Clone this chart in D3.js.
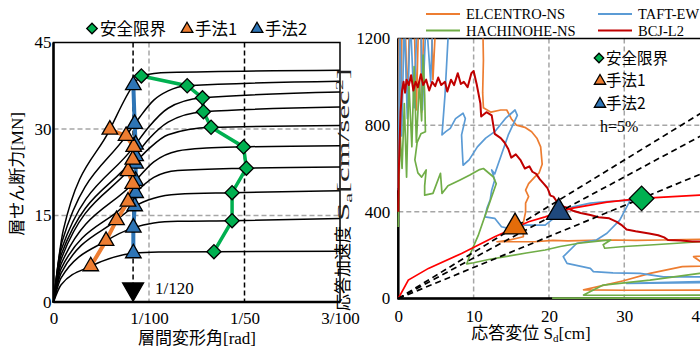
<!DOCTYPE html>
<html>
<head>
<meta charset="utf-8">
<script src="https://cdn.jsdelivr.net/npm/d3@7"></script>
<style>
  body { margin: 0; background: #fff; }
  svg { display: block; }
</style>
</head>
<body>
<svg id="chart" width="700" height="347"></svg>
<script>
// ---- left chart: story shear vs drift ----
const story1 = [[0,0],[0.0008,3.0],[0.0039,6.2],[0.0084,8.45],[0.011,8.65],[0.0168,8.72],[0.03,8.8]]
const story2 = [[0,0],[0.0008,4.2],[0.0055,10.6],[0.0084,12.9],[0.0105,13.7],[0.013,14.0],[0.0187,14.1],[0.03,14.5]]
const story3 = [[0,0],[0.0008,5.0],[0.0066,14.2],[0.0085,16.6],[0.0105,18.0],[0.013,18.7],[0.0187,18.95],[0.03,19.3]]
const story4 = [[0,0],[0.0008,5.8],[0.0078,17.4],[0.0086,18.9],[0.0105,21.6],[0.013,22.8],[0.0202,23.2],[0.03,23.4]]
const story5 = [[0,0],[0.0008,6.6],[0.0083,20.5],[0.0105,24.3],[0.013,26.2],[0.016,26.7],[0.0199,26.9],[0.03,27.1]]
const story6 = [[0,0],[0.0008,7.4],[0.0078,22.7],[0.01,26.6],[0.012,29.0],[0.0165,30.3],[0.03,30.6]]
const story7 = [[0,0],[0.0008,8.2],[0.0083,24.7],[0.01,28.3],[0.012,31.2],[0.0157,33.0],[0.03,33.8]]
const story8 = [[0,0],[0.0008,9.0],[0.0084,26.9],[0.01,30.4],[0.012,33.6],[0.0156,35.4],[0.03,36.4]]
const story9 = [[0,0],[0.0009,10.5],[0.0076,28.8],[0.009,32.0],[0.0105,35.0],[0.012,36.6],[0.014,37.5],[0.03,38.3]]
const story10 = [[0,0],[0.00103,12.5],[0.0059,29.9],[0.00836,37.6],[0.0092,39.2],[0.012,39.8],[0.03,40.2]]
const storyCurves = [story1, story2, story3, story4, story5, story6, story7, story8, story9, story10]

const safetyLimit = [[0.0168,8.72],[0.0187,14.1],[0.0187,18.95],[0.0202,23.2],[0.0199,26.9],[0.0165,30.3],[0.0157,33.0],[0.0156,35.4],[0.0140,37.5],[0.0092,39.2]]
const method1 = [[0.0039,6.2],[0.0055,10.6],[0.0066,14.2],[0.0078,17.4],[0.0083,20.5],[0.0078,22.7],[0.0083,24.7],[0.0084,26.9],[0.0076,28.8],[0.0059,29.9]]
const method2 = [[0.00836,8.45],[0.00836,12.9],[0.0085,16.6],[0.0086,18.9],[0.0086,21.0],[0.0086,24.0],[0.0086,25.3],[0.0086,27.3],[0.0085,30.9],[0.00836,37.6]]

const driftTicks = [0, 0.01, 0.02, 0.03]
const driftLabels = ['0', '1/100', '1/50', '3/100']
const shearTicks = [0, 15, 30, 45]
const driftLimit = 1 / 120
const driftLimitMark = 1.9

// ---- right chart: Sa - Sd spectra ----
const elcentro = [[0,510],[0.1,1300],[0.3,760],[0.5,1300],[0.9,1300],[1.2,880],[1.5,1300],[2.1,1300],[2.4,870],[2.7,1300],[3.0,1300],[3.1,860],[3.4,1300],[4.4,1300],[4.6,1010],[5.0,1300],[7,1400],[9,1500],[11.2,1300],[11.3,1100],[11.2,950],[11.3,880],[12.3,860],[13.6,870],[14.4,870],[15.0,830],[15.7,800],[16.8,790],[17.7,770],[18.4,740],[18.9,700],[19.1,620],[18.7,580],[18.1,560],[17.3,530],[16.9,500],[17.3,470],[16.9,440],[16.9,400],[16.6,350],[16.6,300],[16.6,285],[14.5,268],[13.1,262],[15.5,262],[18.1,262],[20.5,268],[22.5,266],[25.5,268],[28.8,270],[31.5,268],[35,270],[38,272],[42,275],[45,275],[45,210],[39.2,193],[41,150],[37.7,147],[33.4,116],[29.9,82],[24.6,40],[30,38],[40,39],[45,39]]
const taft = [[0,500],[0.2,1300],[0.45,750],[0.8,1300],[1.2,830],[1.6,1300],[2.1,880],[2.5,1300],[3.0,1300],[3.2,870],[3.7,1300],[4.3,1000],[4.6,1300],[6.7,1350],[6.6,1200],[6.2,940],[5.8,755],[6.3,770],[6.9,785],[7.6,830],[8.6,855],[8.9,830],[8.4,755],[8.5,680],[8.6,615],[9.4,640],[10.5,700],[11.6,740],[12.8,770],[14.2,830],[15.5,870],[15.8,845],[15.2,800],[14.6,755],[13.7,665],[12.8,575],[12.4,593],[12.8,547],[12.4,500],[12.2,455],[11.8,420],[11.5,377],[12.8,370],[13.7,331],[14.6,324],[16.4,339],[19.5,339],[21.0,380],[23.2,423],[25.5,440],[27.7,447],[30.8,454],[29.4,362],[27.7,301],[26.3,270],[23.7,255],[21.9,193],[22.4,162],[25.5,139],[25.9,124],[28.5,118],[32.1,116],[35.2,100],[39.6,100],[45,100],[45,75],[30.3,70],[40,78],[45,78]]
const hachinohe = [[0,330],[0.1,550],[0.25,760],[0.5,600],[0.8,900],[1.1,560],[1.4,1000],[1.8,700],[2.1,1070],[2.4,720],[2.8,1000],[3.1,820],[3.3,1123],[3.5,940],[3.6,770],[3.0,760],[2.5,720],[2.2,640],[2.6,580],[3.1,560],[3.7,593],[3.5,520],[3.5,477],[4.6,485],[5.6,578],[5.8,485],[6.6,520],[8.2,547],[9.5,570],[10.8,595],[11.3,600],[12.6,562],[13.0,530],[12.2,450],[11.4,370],[10.6,290],[9.6,210],[9.1,160],[10.0,165],[12.0,180],[14.2,193],[17,210],[19.5,224],[21.5,240],[24,255],[26.5,265],[28.2,270],[27.2,248],[27.4,232],[30,240],[33.4,247],[37,255],[40,262],[45,265],[45,120],[40,116],[33.4,85],[27.2,62],[24.6,16],[32,15],[40,16],[45,16],[45,3],[20.5,2],[40,2],[45,2]]
const bcjL2 = [[0,400],[0.05,560],[0.15,700],[0.3,860],[0.5,960],[0.7,1000],[0.9,950],[1.1,1010],[1.4,985],[1.7,1030],[2.0,960],[2.3,1000],[2.6,975],[3.0,1035],[3.3,985],[3.7,1010],[4.1,960],[4.5,1000],[4.9,980],[5.3,1020],[5.7,985],[6.2,1000],[6.5,955],[7.0,1010],[7.4,985],[7.9,1040],[8.3,990],[8.7,1000],[9.2,975],[9.7,1040],[10.0,1050],[10.4,990],[10.9,900],[11.0,840],[11.7,860],[12.4,845],[12.8,760],[13.6,740],[14.1,720],[14.6,690],[15.0,650],[15.6,665],[16.2,640],[16.8,600],[17.4,610],[17.8,585],[18.3,575],[18.8,550],[19.3,530],[19.8,510],[20.2,475],[20.6,470],[21.0,450],[21.4,430],[22.3,420],[23.2,405],[24.2,395],[25.5,385],[26.6,375],[28.0,370],[29.0,354],[29.6,340],[30.3,318],[31.5,310],[33.3,300],[34.5,292],[35.3,282],[35.8,270],[37.5,268],[39,263],[42,262]]
const capacity = [[0,0],[1.33,85],[4.0,139],[8.4,208],[12.8,285],[17.3,354],[19.5,377],[22.8,415],[27.7,445],[32.3,462],[40,477],[45,480]]

const spectraNames = ['ELCENTRO-NS', 'TAFT-EW', 'HACHINOHE-NS', 'BCJ-L2']
const spectraColors = ['#ed7d31', '#5b9bd5', '#70ad47', '#c00000']
const spectra = [elcentro, taft, hachinohe, bcjL2]

const pointMethod1 = [15.5, 330]
const pointMethod2 = [21.3, 398]
const pointSafety = [32.3, 462]

const sdTicks = [0, 10, 20, 30, 40]
const saTicks = [0, 400, 800, 1200]

const legendNames = ['安全限界', '手法1', '手法2']

// ---- drawing ----
const svg = d3.select('#chart')
const serif = '"Liberation Serif", "Times New Roman", serif'
const jp = '"Noto Sans CJK JP", sans-serif'
const mixed = '"Liberation Serif", "Noto Sans CJK JP", serif'

const xL = d3.scaleLinear().domain([0, 0.03]).range([53.5, 340])
const yL = d3.scaleLinear().domain([0, 45]).range([302, 42.5])
const xR = d3.scaleLinear().domain([0, 40]).range([398.3, 699.6])
const yR = d3.scaleLinear().domain([0, 1200]).range([298.5, 38.5])

const triUp = d3.symbol(d3.symbolTriangle)
const square = d3.symbol(d3.symbolSquare)

function marker(g, type, x, y, size, fill, rot) {
    const sym = type === 'tri' ? triUp.size(size)() : square.size(size)()
    g.append('path')
        .attr('d', sym)
        .attr('transform', `translate(${x},${y}) rotate(${rot || 0})`)
        .attr('fill', fill)
        .attr('stroke', '#000')
        .attr('stroke-width', 1.3)
        .attr('stroke-linejoin', 'miter')
}

// left chart
const gL = svg.append('g')

gL.append('line')
    .attr('x1', xL(0.01)).attr('x2', xL(0.01)).attr('y1', yL(45)).attr('y2', yL(0))
    .attr('stroke', '#a6a6a6').attr('stroke-width', 1.5).attr('stroke-dasharray', '5,3')
;[15, 30].forEach(v => {
    gL.append('line')
        .attr('x1', xL(0)).attr('x2', xL(0.03) + 3).attr('y1', yL(v)).attr('y2', yL(v))
        .attr('stroke', '#a6a6a6').attr('stroke-width', 1.5).attr('stroke-dasharray', '5,3')
})

gL.append('line')
    .attr('x1', xL(0.02)).attr('x2', xL(0.02)).attr('y1', yL(45)).attr('y2', yL(0))
    .attr('stroke', '#000').attr('stroke-width', 1.5).attr('stroke-dasharray', '5,3')
gL.append('line')
    .attr('x1', xL(driftLimit)).attr('x2', xL(driftLimit)).attr('y1', yL(45)).attr('y2', yL(driftLimitMark))
    .attr('stroke', '#000').attr('stroke-width', 1.5).attr('stroke-dasharray', '5,3')

const lineL = d3.line().x(d => xL(d[0])).y(d => yL(d[1])).curve(d3.curveMonotoneX)
storyCurves.forEach(c => {
    gL.append('path').attr('d', lineL(c))
        .attr('fill', 'none').attr('stroke', '#000').attr('stroke-width', 1.5)
})

const straightL = d3.line().x(d => xL(d[0])).y(d => yL(d[1]))
gL.append('path').attr('d', straightL(method2))
    .attr('fill', 'none').attr('stroke', '#2e75b6').attr('stroke-width', 4)
gL.append('path').attr('d', straightL(method1))
    .attr('fill', 'none').attr('stroke', '#ed7d31').attr('stroke-width', 4)
gL.append('path').attr('d', straightL(safetyLimit))
    .attr('fill', 'none').attr('stroke', '#00b050').attr('stroke-width', 3.5)

method2.forEach(d => marker(gL, 'tri', xL(d[0]), yL(d[1]), 105, '#2e75b6'))
method1.forEach(d => marker(gL, 'tri', xL(d[0]), yL(d[1]), 105, '#ed7d31'))
safetyLimit.forEach(d => marker(gL, 'sq', xL(d[0]), yL(d[1]), 100, '#00b050', 45))

marker(gL, 'tri', xL(driftLimit), yL(driftLimitMark) - 2, 190, '#000', 180)
gL.append('text')
    .attr('x', 155).attr('y', 294)
    .attr('font-family', serif).attr('font-size', 17)
    .text('1/120')

// frame left
gL.append('rect')
    .attr('x', xL(0)).attr('y', yL(45)).attr('width', xL(0.03) - xL(0)).attr('height', yL(0) - yL(45))
    .attr('fill', 'none').attr('stroke', '#000').attr('stroke-width', 1.5)
gL.append('line').attr('x1', xL(0)).attr('x2', xL(0)).attr('y1', yL(45)).attr('y2', yL(0) + 1)
    .attr('stroke', '#000').attr('stroke-width', 2.5)
gL.append('line').attr('x1', xL(0)).attr('x2', xL(0.03)).attr('y1', yL(0)).attr('y2', yL(0))
    .attr('stroke', '#000').attr('stroke-width', 2.5)

const axL = gL.append('g').attr('transform', `translate(0,${yL(0)})`)
    .call(d3.axisBottom(xL).tickValues(driftTicks).tickFormat((d, i) => driftLabels[i]).tickSize(0).tickPadding(10))
const ayL = gL.append('g').attr('transform', `translate(${xL(0)},0)`)
    .call(d3.axisLeft(yL).tickValues(shearTicks).tickSize(0).tickPadding(2))
;[axL, ayL].forEach(a => {
    a.select('.domain').remove()
    a.selectAll('text').attr('font-family', serif).attr('font-size', 17).attr('fill', '#000')
})

gL.append('text')
    .attr('x', 197).attr('y', 344)
    .attr('text-anchor', 'middle')
    .attr('font-family', mixed).attr('font-size', 17)
    .text('層間変形角[rad]')
gL.append('text')
    .attr('transform', 'translate(23,174) rotate(-90)')
    .attr('text-anchor', 'middle')
    .attr('font-family', mixed).attr('font-size', 17)
    .text('層せん断力[MN]')

// left legend
const legL = gL.append('g').attr('font-family', jp).attr('font-size', 16.5)
marker(legL, 'sq', 92, 28.5, 55, '#00b050', 45)
legL.append('text').attr('x', 100).attr('y', 34.5).text(legendNames[0])
marker(legL, 'tri', 187, 29, 60, '#ed7d31')
legL.append('text').attr('x', 195).attr('y', 34.5).text(legendNames[1])
marker(legL, 'tri', 257, 29, 60, '#2e75b6')
legL.append('text').attr('x', 265).attr('y', 34.5).text(legendNames[2])

// right chart
const gR = svg.append('g')

sdTicks.filter(v => v > 0 && v < 40).forEach(v => {
    gR.append('line')
        .attr('x1', xR(v)).attr('x2', xR(v)).attr('y1', yR(1200)).attr('y2', yR(0))
        .attr('stroke', '#a6a6a6').attr('stroke-width', 1.5).attr('stroke-dasharray', '5,3')
})
saTicks.filter(v => v > 0 && v < 1200).forEach(v => {
    gR.append('line')
        .attr('x1', xR(0)).attr('x2', xR(40)).attr('y1', yR(v)).attr('y2', yR(v))
        .attr('stroke', '#a6a6a6').attr('stroke-width', 1.5).attr('stroke-dasharray', '5,3')
})

gR.append('rect')
    .attr('x', xR(0)).attr('y', yR(1200)).attr('width', xR(40) - xR(0) + 5).attr('height', yR(0) - yR(1200))
    .attr('fill', 'none').attr('stroke', '#000').attr('stroke-width', 1.5)
gR.append('line').attr('x1', xR(0)).attr('x2', xR(0)).attr('y1', yR(1200)).attr('y2', yR(0) + 1)
    .attr('stroke', '#000').attr('stroke-width', 2.5)
gR.append('line').attr('x1', xR(0)).attr('x2', 700).attr('y1', yR(0)).attr('y2', yR(0))
    .attr('stroke', '#000').attr('stroke-width', 2.5)

svg.append('clipPath').attr('id', 'clipR')
    .append('rect').attr('x', xR(0) - 2).attr('y', yR(1200)).attr('width', 310).attr('height', yR(0) - yR(1200) + 2)

const plotR = gR.append('g').attr('clip-path', 'url(#clipR)')
const lineR = d3.line().x(d => xR(d[0])).y(d => yR(d[1]))
spectra.forEach((s, i) => {
    plotR.append('path').attr('d', lineR(s))
        .attr('fill', 'none').attr('stroke', spectraColors[i])
        .attr('stroke-width', i === 3 ? 2 : 1.7).attr('stroke-linejoin', 'round')
})
plotR.append('path').attr('d', lineR(capacity))
    .attr('fill', 'none').attr('stroke', '#ff0000').attr('stroke-width', 1.7)

;[pointMethod1, pointMethod2, pointSafety].forEach(p => {
    const k = 60 / p[0]
    plotR.append('line')
        .attr('x1', xR(0)).attr('y1', yR(0))
        .attr('x2', xR(60)).attr('y2', yR(p[1] * k))
        .attr('stroke', '#000').attr('stroke-width', 1.7).attr('stroke-dasharray', '6,4')
})

marker(gR, 'tri', xR(pointMethod1[0]), yR(pointMethod1[1]), 250, '#e36c0a')
marker(gR, 'tri', xR(pointMethod2[0]), yR(pointMethod2[1]), 260, '#1f497d')
marker(gR, 'sq', xR(pointSafety[0]), yR(pointSafety[1]), 300, '#00b050', 45)

const axR = gR.append('g').attr('transform', `translate(0,${yR(0)})`)
    .call(d3.axisBottom(xR).tickValues(sdTicks).tickSize(0).tickPadding(11))
const ayR = gR.append('g').attr('transform', `translate(${xR(0)},0)`)
    .call(d3.axisLeft(yR).tickValues(saTicks).tickFormat(d3.format('d')).tickSize(0).tickPadding(8))
;[axR, ayR].forEach(a => {
    a.select('.domain').remove()
    a.selectAll('text').attr('font-family', serif).attr('font-size', 17).attr('fill', '#000')
})

const xlab = gR.append('text')
    .attr('x', 531).attr('y', 339)
    .attr('text-anchor', 'middle')
    .attr('font-family', mixed).attr('font-size', 17)
xlab.append('tspan').text('応答変位 S')
xlab.append('tspan').attr('font-size', 11).attr('dy', 3).text('d')
xlab.append('tspan').attr('dy', -3).text('[cm]')

// rotated y label: the latin part is drawn stretched along the text, as in the picture
const ylabG = gR.append('g').attr('transform', 'translate(349,311) rotate(-90)')
ylabG.append('text')
    .attr('font-family', jp).attr('font-size', 17)
    .text('応答加速度')
const ylabLatin = ylabG.append('text')
    .attr('transform', 'translate(90,0) scale(2.0,1)')
    .attr('font-family', serif).attr('font-size', 16.5).attr('fill', '#222')
ylabLatin.append('tspan').text('S')
ylabLatin.append('tspan').attr('font-size', 11).attr('dy', 3).text('a')
ylabLatin.append('tspan').attr('dy', -3).text('[cm/sec')
ylabLatin.append('tspan').attr('font-size', 11).attr('dy', -6).text('2')
ylabLatin.append('tspan').attr('dy', 6).text(']')

// top legend
const legR = gR.append('g').attr('font-family', serif).attr('font-size', 14.5)
spectraNames.forEach((n, i) => {
    const lx = i % 2 === 0 ? 426 : 598
    const ly = i < 2 ? 14 : 30.5
    legR.append('line').attr('x1', lx).attr('x2', lx + 34).attr('y1', ly).attr('y2', ly)
        .attr('stroke', spectraColors[i]).attr('stroke-width', 2)
    legR.append('text').attr('x', lx + 40).attr('y', ly + 5).text(n)
})

// inner legend
const legI = gR.append('g').attr('font-family', jp).attr('font-size', 15.5)
marker(legI, 'sq', 599, 58, 45, '#00b050', 45)
legI.append('text').attr('x', 606).attr('y', 63.5).text(legendNames[0])
marker(legI, 'tri', 600, 81, 55, '#ed7d31')
legI.append('text').attr('x', 606).attr('y', 86).text(legendNames[1])
marker(legI, 'tri', 600, 104, 55, '#2e75b6')
legI.append('text').attr('x', 606).attr('y', 109).text(legendNames[2])
gR.append('text').attr('x', 600).attr('y', 132)
    .attr('font-family', serif).attr('font-size', 16)
    .text('h=5%')
</script>
</body>
</html>
